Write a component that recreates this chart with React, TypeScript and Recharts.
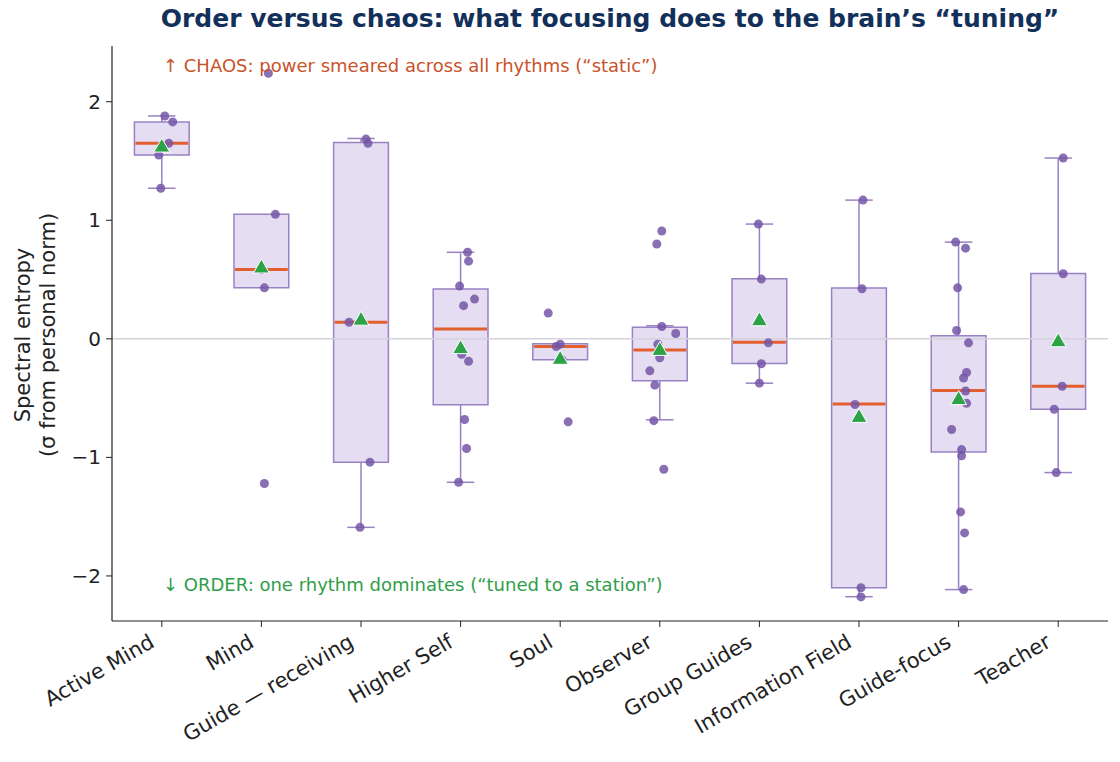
import { ComposedChart, Scatter, XAxis, YAxis, ReferenceArea, ReferenceLine } from 'recharts'

const categories = ['Active Mind', 'Mind', 'Guide — receiving', 'Higher Self', 'Soul', 'Observer', 'Group Guides', 'Information Field', 'Guide-focus', 'Teacher']

const whiskerLow = [1.27, 0.43, -1.59, -1.21, -0.177, -0.683, -0.374, -2.175, -2.115, -1.128]
const q1 = [1.55, 0.43, -1.04, -0.557, -0.177, -0.354, -0.208, -2.1, -0.954, -0.594]
const medians = [1.65, 0.585, 0.14, 0.084, -0.065, -0.095, -0.028, -0.549, -0.436, -0.4]
const q3 = [1.83, 1.05, 1.655, 0.42, -0.042, 0.098, 0.506, 0.428, 0.025, 0.551]
const whiskerHigh = [1.88, 1.05, 1.69, 0.73, -0.042, 0.11, 0.968, 1.17, 0.816, 1.525]
const means = [1.63, 0.61, 0.17, -0.07, -0.16, -0.085, 0.165, -0.65, -0.5, -0.012]

// individual sessions, with their horizontal jitter (in category units)
const pointValues = [
  [1.88, 1.83, 1.65, 1.55, 1.27],
  [2.24, 1.05, 0.585, 0.43, -1.22],
  [1.685, 1.65, 0.14, -1.04, -1.59],
  [0.73, 0.655, 0.445, 0.335, 0.28, -0.13, -0.19, -0.68, -0.925, -1.21],
  [0.217, -0.045, -0.065, -0.177, -0.7],
  [0.91, 0.8, 0.104, 0.045, -0.045, -0.16, -0.27, -0.39, -0.69, -1.1],
  [0.968, 0.504, -0.034, -0.21, -0.374],
  [1.17, 0.422, -0.554, -2.1, -2.177],
  [0.816, 0.765, 0.43, 0.07, -0.034, -0.284, -0.33, -0.44, -0.543, -0.765, -0.934, -0.987, -1.46, -1.637, -2.115],
  [1.525, 0.549, -0.4, -0.594, -1.128],
]
const pointJitter = [
  [0.03, 0.11, 0.07, -0.03, -0.01],
  [0.07, 0.14, 0, 0.03, 0.03],
  [0.05, 0.07, -0.12, 0.09, -0.01],
  [0.07, 0.08, -0.01, 0.14, 0.03, 0.01, 0.08, 0.04, 0.06, -0.02],
  [-0.12, 0, -0.04, 0.02, 0.08],
  [0.02, -0.03, 0.02, 0.16, -0.02, 0, -0.1, -0.05, -0.06, 0.04],
  [-0.01, 0.02, 0.09, 0.02, 0],
  [0.04, 0.03, -0.04, 0.02, 0.02],
  [-0.03, 0.07, -0.01, -0.02, 0.1, 0.08, 0.05, 0.07, 0.08, -0.07, 0.03, 0.03, 0.02, 0.06, 0.05],
  [0.05, 0.05, 0.04, -0.04, -0.02],
]

const yTicks = [-2, -1, 0, 1, 2]

const FONT = 'DejaVu Sans'
const BOX_HALF = 0.275
const CAP_HALF = 0.138
const BOX_EDGE = '#9882c4'

const points = pointValues.flatMap((vals, i) => vals.map((v, j) => ({ x: i + pointJitter[i][j], y: v })))
const meanPoints = means.map((m, i) => ({ x: i, y: m }))

function XTick(props: any) {
  const { x, y, payload } = props
  const ax = x - 6
  const ay = y + 17
  return (
    <text x={ax} y={ay} transform={`rotate(-30, ${ax}, ${ay})`} textAnchor="end" fontSize={21} fontFamily={FONT} fill="#222">
      {categories[payload.value]}
    </text>
  )
}

function Dot(props: any) {
  return <circle cx={props.cx} cy={props.cy} r={4.5} fill="#7456a6" fillOpacity={0.85} />
}

function Triangle(props: any) {
  const { cx, cy } = props
  return <polygon points={`${cx},${cy - 7.5} ${cx - 8},${cy + 6.5} ${cx + 8},${cy + 6.5}`} fill="#2ca346" stroke="#fff" strokeWidth={1} />
}

export default function App() {
  return (
    <div style={{ position: 'absolute', left: 0, top: 0, width: 1120, height: 762, background: '#fff', fontFamily: FONT }}>
      <div style={{ position: 'absolute', top: 4, left: 0, width: 1220, textAlign: 'center', fontSize: 25, fontWeight: 'bold', color: '#13305a', whiteSpace: 'nowrap' }}>
        Order versus chaos: what focusing does to the brain’s “tuning”
      </div>
      <div style={{ position: 'absolute', left: 36, top: 335, transform: 'translate(-50%, -50%) rotate(-90deg)', whiteSpace: 'nowrap', textAlign: 'center', fontSize: 21, lineHeight: '25px', color: '#222' }}>
        Spectral entropy
        <br />
        (σ from personal norm)
      </div>
      <ComposedChart width={1120} height={762} margin={{ top: 46, right: 12, bottom: 41, left: 0 }}>
        <XAxis type="number" dataKey="x" domain={[-0.5, 9.5]} ticks={categories.map((_, i) => i)} interval={0} height={100} tick={<XTick />} tickSize={6} axisLine={{ stroke: '#222', strokeWidth: 1.2 }} tickLine={{ stroke: '#222' }} allowDataOverflow />
        <YAxis type="number" dataKey="y" domain={[-2.38, 2.47]} ticks={yTicks} width={112} tickSize={6} tickMargin={5} tickFormatter={(v) => (v < 0 ? `−${Math.abs(v)}` : `${v}`)} tick={{ fontSize: 20, fill: '#222', fontFamily: FONT }} axisLine={{ stroke: '#222', strokeWidth: 1.2 }} tickLine={{ stroke: '#222' }} allowDataOverflow />
        {categories.map((c, i) => (
          <ReferenceArea key={`box-${c}`} x1={i - BOX_HALF} x2={i + BOX_HALF} y1={q1[i]} y2={q3[i]} fill="#e5ddf2" fillOpacity={1} stroke={BOX_EDGE} strokeWidth={1.5} />
        ))}
        <ReferenceLine y={0} stroke="#d4d2da" strokeWidth={1.5} />
        {categories.map((c, i) =>
          whiskerLow[i] < q1[i] ? (
            <ReferenceLine key={`wl-${c}`} segment={[{ x: i, y: whiskerLow[i] }, { x: i, y: q1[i] }]} stroke={BOX_EDGE} strokeWidth={1.5} />
          ) : null
        )}
        {categories.map((c, i) =>
          whiskerHigh[i] > q3[i] ? (
            <ReferenceLine key={`wh-${c}`} segment={[{ x: i, y: q3[i] }, { x: i, y: whiskerHigh[i] }]} stroke={BOX_EDGE} strokeWidth={1.5} />
          ) : null
        )}
        {categories.map((c, i) =>
          whiskerLow[i] < q1[i] ? (
            <ReferenceLine key={`cl-${c}`} segment={[{ x: i - CAP_HALF, y: whiskerLow[i] }, { x: i + CAP_HALF, y: whiskerLow[i] }]} stroke={BOX_EDGE} strokeWidth={1.5} />
          ) : null
        )}
        {categories.map((c, i) =>
          whiskerHigh[i] > q3[i] ? (
            <ReferenceLine key={`ch-${c}`} segment={[{ x: i - CAP_HALF, y: whiskerHigh[i] }, { x: i + CAP_HALF, y: whiskerHigh[i] }]} stroke={BOX_EDGE} strokeWidth={1.5} />
          ) : null
        )}
        {categories.map((c, i) => (
          <ReferenceLine key={`med-${c}`} segment={[{ x: i - BOX_HALF + 0.01, y: medians[i] }, { x: i + BOX_HALF - 0.01, y: medians[i] }]} stroke="#e35f30" strokeWidth={3} />
        ))}
        <Scatter data={points} shape={<Dot />} isAnimationActive={false} />
        <Scatter data={meanPoints} shape={<Triangle />} isAnimationActive={false} />
      </ComposedChart>
      <div style={{ position: 'absolute', left: 163, top: 55, fontSize: 18, color: '#c8532a', whiteSpace: 'nowrap' }}>
        ↑ CHAOS: power smeared across all rhythms (“static”)
      </div>
      <div style={{ position: 'absolute', left: 163, top: 574, fontSize: 18, color: '#2f9e48', whiteSpace: 'nowrap' }}>
        ↓ ORDER: one rhythm dominates (“tuned to a station”)
      </div>
    </div>
  )
}
